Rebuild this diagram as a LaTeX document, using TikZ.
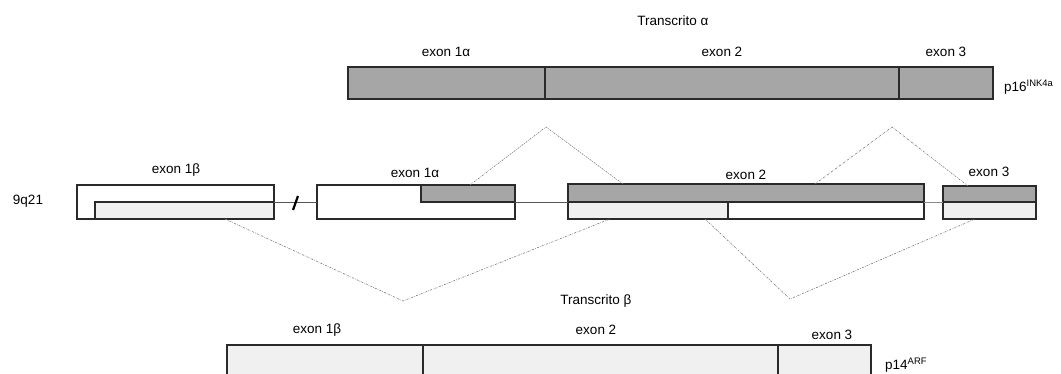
\documentclass[tikz,border=0pt]{standalone}
\usepackage{fontspec}
\setmainfont{Liberation Sans}
\definecolor{exdark}{HTML}{A6A6A6}
\definecolor{exlight}{HTML}{F0F0F0}
\definecolor{edge}{HTML}{2A2A2A}
\definecolor{splice}{HTML}{7A7A7A}
\begin{document}
\begin{tikzpicture}[x=1pt,y=-1pt,
  box/.style={draw=edge,line width=1.2pt,anchor=north west,inner sep=0pt,outer sep=0pt},
  darkbox/.style={box,fill=exdark},
  lightbox/.style={box,fill=exlight},
  whitebox/.style={box,fill=white},
  lbl/.style={font=\fontsize{13.5}{15}\selectfont,inner sep=0pt},
  splicing/.style={draw=splice,line width=0.6pt,dash pattern=on 2pt off 1.2pt on 0.6pt off 1.2pt},
  intron/.style={draw=edge!80,line width=0.8pt}]
\useasboundingbox (0,0) rectangle (1061,374);

% ---- mature transcript alpha (p16INK4a)
\node[lbl] (ta) at (673,21) {Transcrito α};
\node[darkbox,minimum width=197pt,minimum height=32pt] (a1) at (348,67) {};
\node[darkbox,minimum width=354pt,minimum height=32pt] (a2) at (545,67) {};
\node[darkbox,minimum width=94pt,minimum height=32pt] (a3) at (899,67) {};
\node[lbl] (la1) at (446,52) {exon 1α};
\node[lbl] (la2) at (722,52) {exon 2};
\node[lbl] (la3) at (946,52) {exon 3};
\node[lbl,anchor=west] (p16) at (1004,87) {p16\textsuperscript{INK4a}};

% ---- genomic locus 9q21
\node[lbl] (locus) at (28,201) {9q21};
% exon 1 beta
\node[whitebox,minimum width=197pt,minimum height=34pt] (g1b) at (77,185) {};
\node[lightbox,minimum width=179pt,minimum height=17pt] (g1bc) at (95,202) {};
\node[lbl] (lg1b) at (176,170) {exon 1β};
% exon 1 alpha
\node[whitebox,minimum width=198pt,minimum height=34pt] (g1a) at (317,185) {};
\node[darkbox,minimum width=94pt,minimum height=17pt] (g1ac) at (421,185) {};
\node[lbl] (lg1a) at (415,173) {exon 1α};
% exon 2
\node[darkbox,minimum width=356pt,minimum height=18pt] (g2t) at (568,184) {};
\node[lightbox,minimum width=160pt,minimum height=17pt] (g2l) at (568,202) {};
\node[whitebox,minimum width=196pt,minimum height=17pt] (g2w) at (728,202) {};
\node[lbl] (lg2) at (746,175) {exon 2};
% exon 3
\node[darkbox,minimum width=93pt,minimum height=16pt] (g3t) at (943,186) {};
\node[lightbox,minimum width=93pt,minimum height=17pt] (g3b) at (943,202) {};
\node[lbl] (lg3) at (989,172) {exon 3};

% introns and the break mark
\draw[intron] (g1b.east) -- (g1a.west);
\draw[intron] (g1a.east) -- (g2t.south west);
\draw[intron,draw=edge!55] (g2w.north east) -- (g3t.south west);
\coordinate (brk1) at (293,210);
\coordinate (brk2) at (298,196);
\draw[line width=2.2pt] (brk1) -- (brk2);

% ---- splicing for transcript alpha
\coordinate (sa1) at (470,185);
\coordinate (pa1) at (546,127);
\coordinate (sa2) at (623,184);
\coordinate (sa3) at (815,184);
\coordinate (pa2) at (892,127);
\coordinate (sa4) at (968,186);
\draw[splicing] (sa1) -- (pa1) -- (sa2);
\draw[splicing] (sa3) -- (pa2) -- (sa4);

% ---- splicing for transcript beta
\coordinate (sb1) at (225,219);
\coordinate (pb1) at (403,301);
\coordinate (sb2) at (610,219);
\coordinate (sb3) at (705,219);
\coordinate (pb2) at (790,299);
\coordinate (sb4) at (975,219);
\draw[splicing] (sb1) -- (pb1) -- (sb2);
\draw[splicing] (sb3) -- (pb2) -- (sb4);

% ---- mature transcript beta (p14ARF)
\node[lbl] (tb) at (596,301) {Transcrito β};
\node[lightbox,minimum width=196pt,minimum height=40pt] (b1) at (227,345) {};
\node[lightbox,minimum width=355pt,minimum height=40pt] (b2) at (423,345) {};
\node[lightbox,minimum width=93pt,minimum height=40pt] (b3) at (778,345) {};
\node[lbl] (lb1) at (317,330) {exon 1β};
\node[lbl] (lb2) at (596,330) {exon 2};
\node[lbl] (lb3) at (832,335) {exon 3};
\node[lbl,anchor=west] (p14) at (885,365) {p14\textsuperscript{ARF}};
\end{tikzpicture}
\end{document}
